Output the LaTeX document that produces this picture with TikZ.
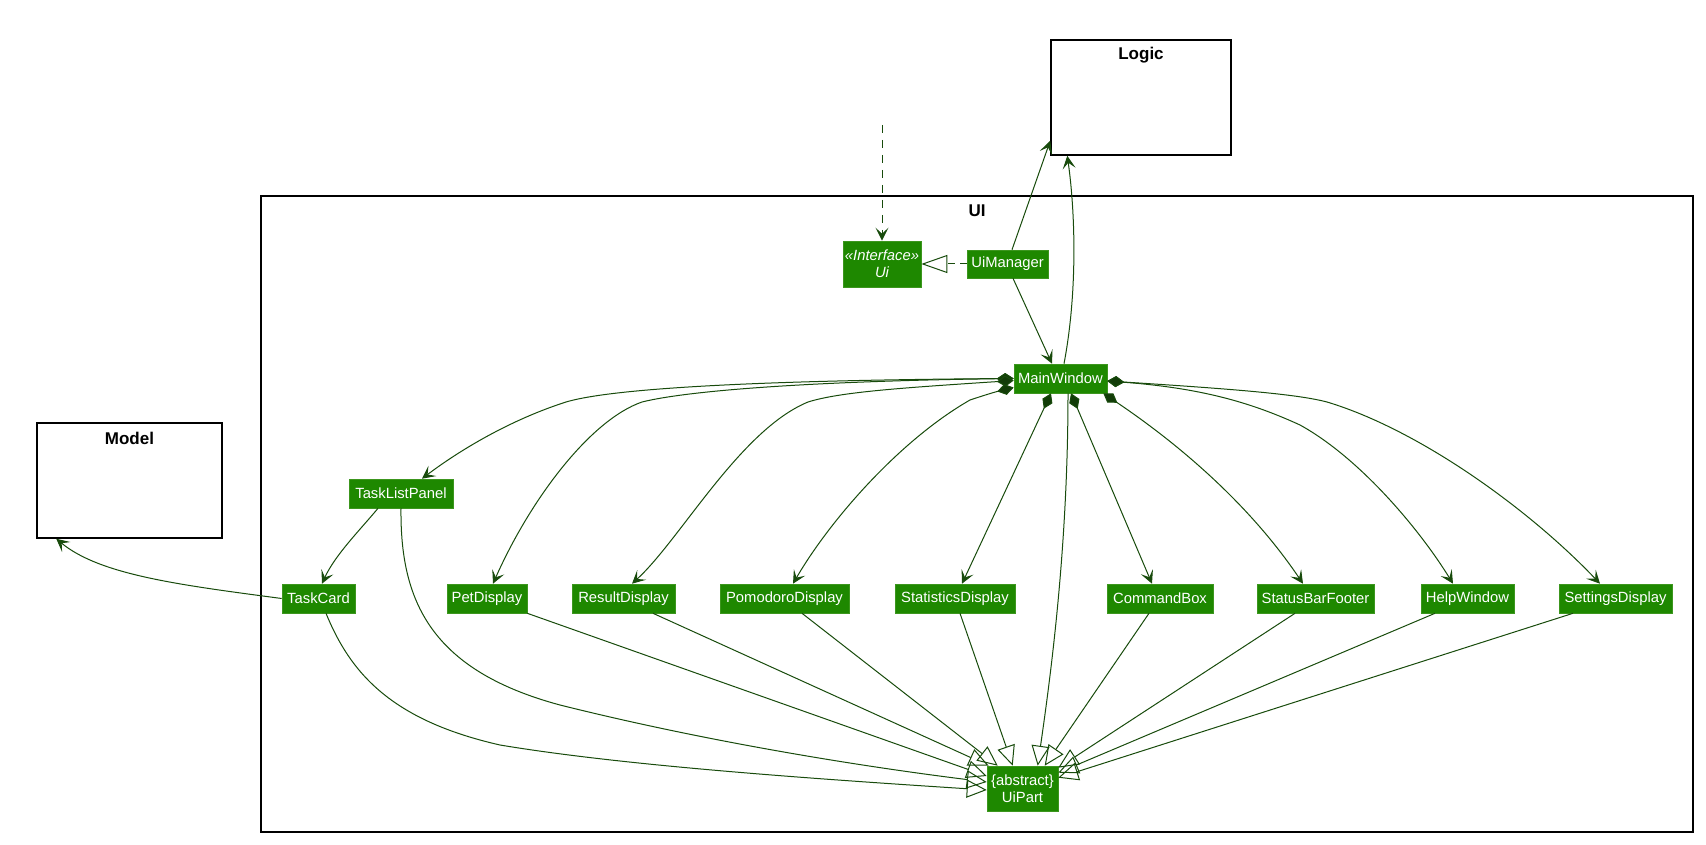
\documentclass[tikz,border=0pt]{standalone}
\usepackage{fontspec}
\setmainfont{Liberation Sans}
\usetikzlibrary{arrows.meta}
\definecolor{nodegreen}{RGB}{30,136,0}
\definecolor{nodeborder}{RGB}{60,150,30}
\definecolor{linegreen}{RGB}{24,75,12}
\definecolor{diagreen}{RGB}{18,60,8}
\begin{document}
\begin{tikzpicture}[x=1pt,y=-1pt,
  cls/.style={draw=nodeborder, line width=0.6pt, fill=nodegreen, text=white,
    font=\fontsize{14.8}{17}\selectfont, inner sep=0pt, minimum height=29pt, align=center},
  frm/.style={draw=black, line width=1.5pt, inner sep=0pt},
  frmlabel/.style={font=\fontsize{17}{20}\selectfont\bfseries},
  conn/.style={draw=linegreen, line width=1pt},
  arr/.style={conn, -{Stealth[length=13pt,width=13pt,inset=6pt]}},
  comp/.style={conn, {Diamond[length=17pt,width=11pt,fill=diagreen]}-{Stealth[length=13pt,width=13pt,inset=6pt]}},
  ext/.style={conn, -{Triangle[open,length=20pt,width=18pt]}},
  real/.style={conn, dash pattern=on 7pt off 5pt, -{Triangle[open,length=26pt,width=18pt]}},
  dep/.style={conn, dash pattern=on 8pt off 7pt, -{Stealth[length=13pt,width=13pt,inset=6pt]}}
]
\useasboundingbox[fill=white] (0,0) rectangle (1706,845);

% frames
\node[frm, minimum width=180pt, minimum height=115pt] (logic) at (1141,97.5) {};
\node[frmlabel] (logiclbl) at (1141,55) {Logic};
\node[frm, minimum width=185pt, minimum height=115pt] (model) at (129.5,480.5) {};
\node[frmlabel] (modellbl) at (129.5,438) {Model};
\node[frm, minimum width=1432pt, minimum height=636pt] (uiframe) at (977,514) {};
\node[frmlabel] (uilbl) at (977,211) {UI};

% classes
\node[cls, minimum width=78pt, minimum height=46pt, font=\fontsize{14.8}{17}\selectfont\itshape] (ui) at (882,264) {«Interface»\\Ui};
\node[cls, minimum width=81pt, minimum height=28pt] (uimgr) at (1007.5,264) {UiManager};
\node[cls, minimum width=93pt] (mw) at (1060.5,378.5) {MainWindow};
\node[cls, minimum width=104pt] (tlp) at (401,493.5) {TaskListPanel};
\node[cls, minimum width=73pt] (tc) at (318.5,598.5) {TaskCard};
\node[cls, minimum width=80pt] (pet) at (487,598.5) {PetDisplay};
\node[cls, minimum width=103pt] (res) at (623.5,598.5) {ResultDisplay};
\node[cls, minimum width=129pt] (pom) at (784.5,598.5) {PomodoroDisplay};
\node[cls, minimum width=120pt] (stat) at (955,598.5) {StatisticsDisplay};
\node[cls, minimum width=106pt] (cmd) at (1160,598.5) {CommandBox};
\node[cls, minimum width=117pt] (sbf) at (1315.5,598.5) {StatusBarFooter};
\node[cls, minimum width=93pt] (help) at (1467.5,598.5) {HelpWindow};
\node[cls, minimum width=113pt] (set) at (1615.5,598.5) {SettingsDisplay};
\node[cls, minimum width=71pt, minimum height=45pt] (uipart) at (1022.5,788.5) {\{abstract\}\\UiPart};

% top connectors
\coordinate (depstart) at (882,125);
\draw[dep] (depstart) -- (ui.north);
\draw[real] (uimgr.west) -- (ui.east);
\draw[arr] ([xshift=4.5pt]uimgr.north) -- ([yshift=15pt]logic.south west);
\draw[arr] ([xshift=3.5pt]mw.north) .. controls (1078,290) and (1075,210) .. ([xshift=17pt]logic.south west);
\draw[arr] ([xshift=5.5pt]uimgr.south) -- ([xshift=-8.5pt]mw.north);

% compositions
\draw[comp] (mw.west) .. controls (800,380) and (620,386) .. (566,402) .. controls (510,420) and (460,450) .. ([xshift=21pt]tlp.north);
\draw[comp] (mw.west) .. controls (820,381) and (690,390) .. (642,402) .. controls (590,420) and (530,500) .. ([xshift=6pt]pet.north);
\draw[comp] ([yshift=-2pt]mw.west) .. controls (900,388) and (840,392) .. (808,402) .. controls (740,430) and (680,540) .. ([xshift=8.5pt]res.north);
\draw[comp] ([yshift=-9pt]mw.west) .. controls (995,392) and (985,395) .. (970,400) .. controls (900,440) and (830,520) .. ([xshift=8.5pt]pom.north);
\draw[comp] ([xshift=-9.5pt]mw.south) -- ([xshift=7pt]stat.north);
\draw[comp] ([xshift=10.5pt]mw.south) -- ([xshift=-8pt]cmd.north);
\draw[comp] ([xshift=-4pt]mw.south east) .. controls (1180,445) and (1250,505) .. ([xshift=-12.5pt]sbf.north);
\draw[comp] ([yshift=-2.5pt]mw.east) .. controls (1200,388) and (1250,402) .. (1300,425) .. controls (1360,458) and (1420,530) .. ([xshift=-14.5pt]help.north);
\draw[comp] ([yshift=-2.5pt]mw.east) .. controls (1250,390) and (1300,395) .. (1327,402) .. controls (1420,430) and (1530,510) .. ([xshift=-15.5pt]set.north);

% associations
\draw[arr] ([xshift=-23pt]tlp.south) .. controls (360,530) and (335,555) .. ([xshift=3.5pt]tc.north);
\draw[arr] (tc.west) .. controls (180,585) and (100,575) .. ([xshift=20pt]model.south west);

% extensions
\draw[ext] ([xshift=7.5pt]tc.south) .. controls (350,672) and (390,720) .. (500,745) .. controls (620,765) and (800,778) .. ([yshift=-1.5pt]uipart.west);
\draw[ext] (tlp.south) .. controls (400,600) and (430,670) .. (560,705) .. controls (700,740) and (850,765) .. ([yshift=6.5pt]uipart.west);
\draw[ext] (pet.south east) -- ([yshift=12.5pt]uipart.west);
\draw[ext] ([xshift=29.5pt]res.south) -- ([xshift=2pt]uipart.north west);
\draw[ext] ([xshift=17.5pt]pom.south) -- ([xshift=11pt]uipart.north west);
\draw[ext] ([xshift=5pt]stat.south) -- ([xshift=26pt]uipart.north west);
\draw[ext] ([xshift=7.5pt]mw.south) .. controls (1068,550) and (1050,680) .. ([xshift=51pt]uipart.north west);
\draw[ext] ([xshift=-11pt]cmd.south) -- ([xshift=58pt]uipart.north west);
\draw[ext] ([xshift=-20.5pt]sbf.south) -- ([yshift=-2pt]uipart.north east);
\draw[ext] ([xshift=-32.5pt]help.south) -- ([yshift=-7pt]uipart.north east);
\draw[ext] ([xshift=-42.5pt]set.south) -- ([yshift=-12pt]uipart.north east);
\end{tikzpicture}
\end{document}
